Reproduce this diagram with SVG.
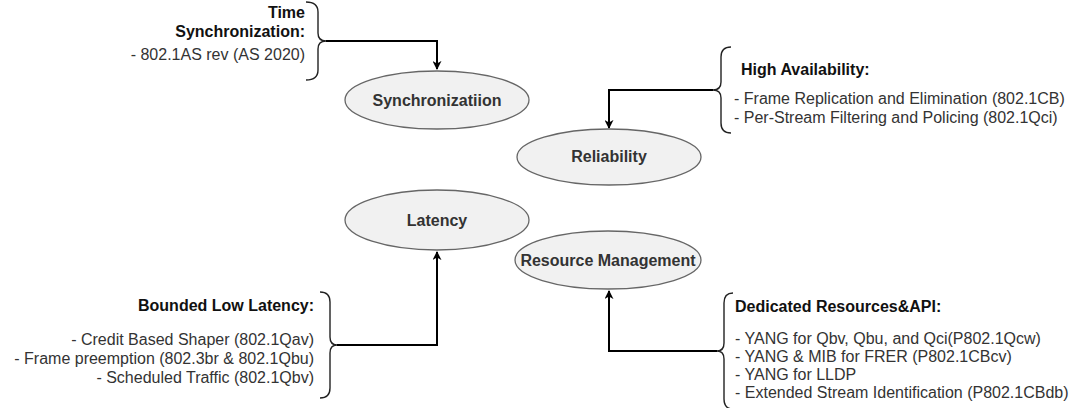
<svg xmlns="http://www.w3.org/2000/svg" width="1080" height="408" viewBox="0 0 1080 408">
<defs>
<marker id="arr" viewBox="0 0 10 10" refX="9" refY="5" markerWidth="9" markerHeight="9" markerUnits="userSpaceOnUse" orient="auto">
<path d="M0,0 L10,5 L0,10 L3,5 Z" fill="#000"/>
</marker>
<style>
.ell{fill:#f1f1f1;stroke:#666;stroke-width:1.3}
.nt{font-family:"Liberation Sans",Arial,sans-serif;font-size:16px;font-weight:bold;fill:#333;text-anchor:middle}
.b{font-family:"Liberation Sans",Arial,sans-serif;font-size:16px;font-weight:bold;fill:#111}
.t{font-family:"Liberation Sans",Arial,sans-serif;font-size:16px;fill:#333}
.br{fill:none;stroke:#222;stroke-width:1.4}
.con{fill:none;stroke:#000;stroke-width:2}
</style>
</defs>
<rect width="1080" height="408" fill="#fff"/>

<g id="connectors">
<path class="con" d="M326,41 H437 V69" marker-end="url(#arr)"/>
<path class="con" d="M713,90 H609 V128" marker-end="url(#arr)"/>
<path class="con" d="M337,345 H437 V252" marker-end="url(#arr)"/>
<path class="con" d="M717,351 H609 V291" marker-end="url(#arr)"/>
</g>

<g id="node-sync">
<ellipse class="ell" cx="437" cy="100" rx="92" ry="29"/>
<text class="nt" x="437" y="106">Synchronizatiion</text>
</g>
<g id="node-reliability">
<ellipse class="ell" cx="609" cy="157" rx="92" ry="28"/>
<text class="nt" x="609" y="162">Reliability</text>
</g>
<g id="node-latency">
<ellipse class="ell" cx="437" cy="220" rx="92" ry="30"/>
<text class="nt" x="437" y="226">Latency</text>
</g>
<g id="node-resource">
<ellipse class="ell" cx="608" cy="260" rx="93" ry="29"/>
<text class="nt" x="608" y="266">Resource Management</text>
</g>

<g id="note-time-sync">
<path class="br" d="M306,2 Q318,2 318,12 V33 Q318,41 326,41 Q318,41 318,49 V70 Q318,80 306,80"/>
<text class="b" x="305" y="18" text-anchor="end">Time</text>
<text class="b" x="305" y="37" text-anchor="end">Synchronization:</text>
<text class="t" x="305" y="60" text-anchor="end">- 802.1AS rev (AS 2020)</text>
</g>

<g id="note-high-availability">
<path class="br" d="M731,47 Q721,47 721,57 V82 Q721,90 713,90 Q721,90 721,98 V123 Q721,133 731,133"/>
<text class="b" x="741" y="75">High Availability:</text>
<text class="t" x="734" y="104">- Frame Replication and Elimination (802.1CB)</text>
<text class="t" x="734" y="123">- Per-Stream Filtering and Policing (802.1Qci)</text>
</g>

<g id="note-bounded-latency">
<path class="br" d="M320,292 Q330,292 330,302 V337 Q330,345 337,345 Q330,345 330,353 V388 Q330,398 320,398"/>
<text class="b" x="314" y="311" text-anchor="end">Bounded Low Latency:</text>
<text class="t" x="314" y="345" text-anchor="end">- Credit Based Shaper (802.1Qav)</text>
<text class="t" x="314" y="364" text-anchor="end">- Frame preemption (802.3br &amp; 802.1Qbu)</text>
<text class="t" x="314" y="383" text-anchor="end">- Scheduled Traffic (802.1Qbv)</text>
</g>

<g id="note-dedicated">
<path class="br" d="M733,293 Q724,293 724,303 V343 Q724,351 717,351 Q724,351 724,359 V399 Q724,409 733,409"/>
<text class="b" x="735" y="312">Dedicated Resources&amp;API:</text>
<text class="t" x="735" y="344">- YANG for Qbv, Qbu, and Qci(P802.1Qcw)</text>
<text class="t" x="735" y="362">- YANG &amp; MIB for FRER (P802.1CBcv)</text>
<text class="t" x="735" y="380">- YANG for LLDP</text>
<text class="t" x="735" y="398">- Extended Stream Identification (P802.1CBdb)</text>
</g>
</svg>
